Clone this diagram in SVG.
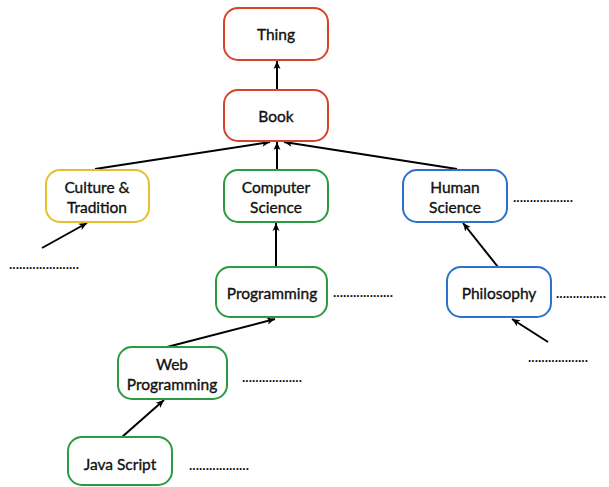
<svg xmlns="http://www.w3.org/2000/svg" width="609" height="487" viewBox="0 0 609 487">
<defs>
<marker id="ah" markerWidth="10" markerHeight="10" refX="9" refY="5" orient="auto" markerUnits="userSpaceOnUse">
<path d="M1,1.5 L9,5 L1,8.5 L3,5 Z" fill="#000"/>
</marker>
</defs>
<style>
.box{fill:#fff;stroke-width:2}
.red{stroke:#d8432c}
.yel{stroke:#e5c02c}
.grn{stroke:#2c9a40}
.blu{stroke:#2a72cc}
.lbl{font-family:Lato,"Open Sans",sans-serif;font-size:15.5px;fill:#111;stroke:#111;stroke-width:0.35;text-anchor:middle}
.dots{font-family:"Liberation Sans",Arial,sans-serif;font-size:12px;fill:#111;font-weight:bold}
.con{stroke:#000;stroke-width:2;fill:none;marker-end:url(#ah)}
</style>
<rect width="609" height="487" fill="#fff"/>
<g id="connectors">
<line class="con" x1="277" y1="90" x2="277" y2="61"/>
<line class="con" x1="95" y1="169" x2="270" y2="142"/>
<line class="con" x1="277" y1="170" x2="277" y2="142"/>
<line class="con" x1="457" y1="169" x2="284" y2="142"/>
<line class="con" x1="42" y1="248" x2="87" y2="223"/>
<line class="con" x1="276" y1="267" x2="276" y2="223"/>
<line class="con" x1="167" y1="347" x2="275" y2="319"/>
<line class="con" x1="122" y1="437" x2="164" y2="400"/>
<line class="con" x1="498" y1="267" x2="463" y2="223"/>
<line class="con" x1="548" y1="342" x2="512" y2="319"/>
</g>
<g id="thing"><rect class="box red" x="224" y="8" width="104" height="52" rx="14"/><text class="lbl" x="276" y="40">Thing</text></g>
<g id="book"><rect class="box red" x="224" y="90" width="104" height="51" rx="14"/><text class="lbl" x="276" y="122">Book</text></g>
<g id="culture"><rect class="box yel" x="46" y="170" width="103" height="52" rx="14"/><text class="lbl" x="97" y="193">Culture &amp;</text><text class="lbl" x="97" y="213">Tradition</text></g>
<g id="compsci"><rect class="box grn" x="224" y="170" width="104" height="52" rx="14"/><text class="lbl" x="276" y="193">Computer</text><text class="lbl" x="276" y="213">Science</text></g>
<g id="humansci"><rect class="box blu" x="403" y="170" width="104" height="52" rx="14"/><text class="lbl" x="455" y="193">Human</text><text class="lbl" x="455" y="213">Science</text></g>
<g id="programming"><rect class="box grn" x="216" y="267" width="111" height="50" rx="14"/><text class="lbl" x="272" y="299">Programming</text></g>
<g id="philosophy"><rect class="box blu" x="447" y="267" width="104" height="50" rx="14"/><text class="lbl" x="499" y="299">Philosophy</text></g>
<g id="webprog"><rect class="box grn" x="118" y="347" width="109" height="52" rx="14"/><text class="lbl" x="172" y="370">Web</text><text class="lbl" x="172" y="390">Programming</text></g>
<g id="javascript"><rect class="box grn" x="68" y="437" width="104" height="48" rx="14"/><text class="lbl" x="120" y="470">Java Script</text></g>
<g id="dots">
<text class="dots" x="9" y="269">.....................</text>
<text class="dots" x="513" y="202">..................</text>
<text class="dots" x="333" y="297">..................</text>
<text class="dots" x="556" y="298">...............</text>
<text class="dots" x="528" y="362">..................</text>
<text class="dots" x="242" y="382">..................</text>
<text class="dots" x="189" y="470">..................</text>
</g>
</svg>
